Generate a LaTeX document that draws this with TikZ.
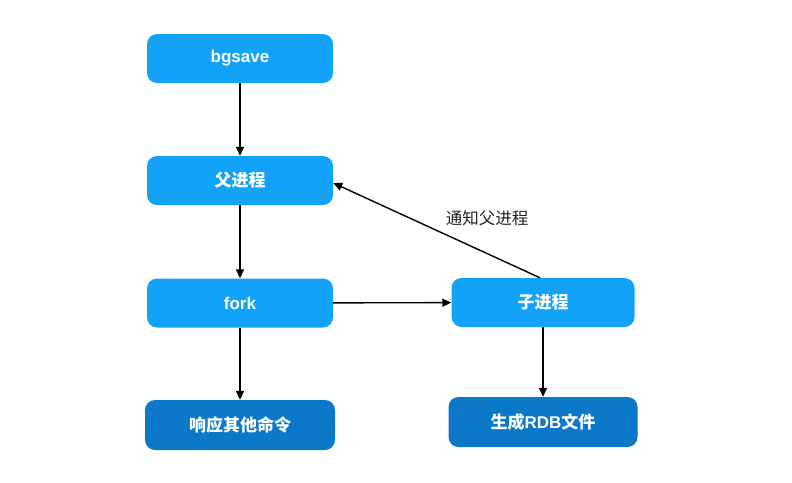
\documentclass[tikz,border=0pt]{standalone}
\usepackage{fontspec}
\setmainfont{Liberation Sans}
\newfontfamily\cjk{Noto Sans CJK SC}
\usetikzlibrary{arrows.meta}
\definecolor{lightblue}{HTML}{12A2F7}
\definecolor{darkblue}{HTML}{0B78C9}
\definecolor{labelgray}{HTML}{222222}
\tikzset{
  box/.style={rectangle, rounded corners=10pt, draw=none, text=white,
    font=\fontsize{17}{20}\selectfont\bfseries, inner sep=0pt},
  lbox/.style={box, fill=lightblue},
  dbox/.style={box, fill=darkblue},
  conn/.style={line width=1.4pt, draw=black, -{Triangle[length=9pt,width=8pt]}},
}
\begin{document}
\begin{tikzpicture}[x=1pt,y=-1pt]
\useasboundingbox (0,0) rectangle (792,482);
\node[lbox, minimum width=186pt, minimum height=49pt] (bg) at (240,58.5) {bgsave};
\node[lbox, minimum width=186pt, minimum height=49pt] (fu) at (240,180.5) {\cjk\bfseries 父进程};
\node[lbox, minimum width=186pt, minimum height=49pt] (fork) at (240,303) {fork};
\node[lbox, minimum width=183pt, minimum height=49pt] (zi) at (543,302.5) {\cjk\bfseries 子进程};
\node[dbox, minimum width=190pt, minimum height=50pt] (resp) at (240,425) {\cjk\bfseries 响应其他命令};
\node[dbox, minimum width=189pt, minimum height=50pt] (rdb) at (543,422) {{\cjk\bfseries 生成}RDB{\cjk\bfseries 文件}};
\draw[conn] (bg) -- (fu);
\draw[conn] (fu) -- (fork);
\draw[conn] (fork) -- (resp);
\draw[conn] (fork) -- (zi);
\draw[conn] (zi) -- (rdb);
\draw[conn] ([xshift=-3pt]zi.north) -- ([yshift=-2.5pt]fu.east);
\node[text=labelgray, font=\cjk\fontsize{16.5}{20}\selectfont] (lbl) at (487,218) {通知父进程};
\end{tikzpicture}
\end{document}
